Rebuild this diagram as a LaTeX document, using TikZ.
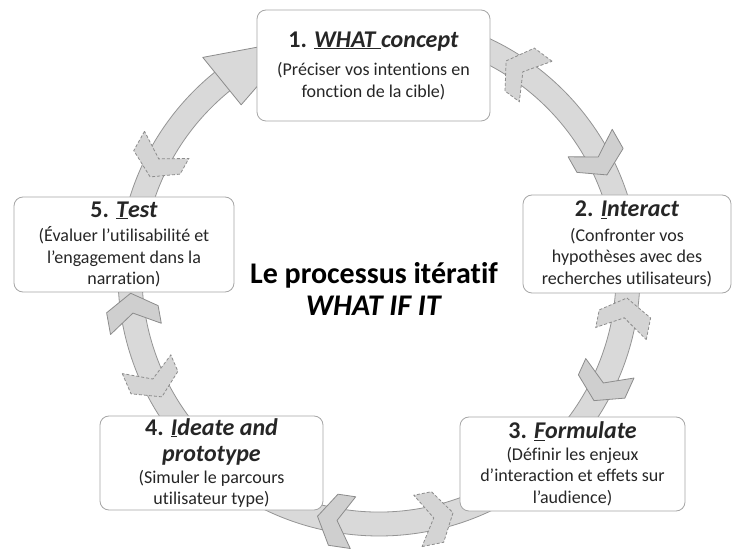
\documentclass[tikz,border=0pt]{standalone}
\usepackage{fontspec}
\setmainfont{Carlito}[Ligatures={TeX,NoCommon}]
\newcommand{\ttl}[1]{{\fontsize{24}{27}\selectfont\bfseries #1}}
\newcommand{\bdy}{\fontsize{18}{21.5}\selectfont}
\tikzset{
  box/.style={draw=black!35, line width=0.8pt, rounded corners=9pt, fill=white, align=center, inner sep=0pt, font=\bdy, text=black!85},
  band/.style={fill=black!15, draw=black!42, line width=0.8pt},
  chevsolid/.style={fill=black!19, draw=black!45, line width=0.8pt, line join=round},
  chevdash/.style={fill=black!17, draw=black!45, dashed, dash pattern=on 3pt off 2pt, line width=0.8pt},
}
% chevron pointing clockwise (direction of travel)
\newcommand{\chevcw}[1]{%
  \draw[chevsolid] ({#1}:275) -- ({#1-4.6}:275) -- ({#1-8.3}:249) -- ({#1-4.6}:223) -- ({#1}:223) -- ({#1-3.7}:249) -- cycle;}
% chevron pointing counter-clockwise (dashed tail)
\newcommand{\chevccw}[1]{%
  \draw[chevdash] ({#1}:275) -- ({#1+4.6}:275) -- ({#1+8.3}:249) -- ({#1+4.6}:223) -- ({#1}:223) -- ({#1+3.7}:249) -- cycle;}
\begin{document}
\begin{tikzpicture}[x=1pt,y=1pt]
\useasboundingbox (0,0) rectangle (733,557);
\fill[white] (0,0) rectangle (733,557);
\begin{scope}[shift={(379,282)}]
  % ring band, open where the arrow head sits
  \draw[band] (128.5:261) arc[start angle=128.5, end angle=470, radius=261]
     -- (470:237) arc[start angle=470, end angle=128.5, radius=237] -- cycle;
  % arrow head 5 -> 1
  \draw[chevsolid, fill=black!15] (129:219) -- (129:280) -- (109:249) -- cycle;
  % solid chevrons (heads)
  \chevcw{32}
  \chevcw{-22}
  \chevcw{-96}
  \chevcw{192.5}
  % dashed chevrons (tails)
  \chevccw{51}
  \chevccw{-13.6}
  \chevccw{-81}
  \chevccw{201}
  \chevccw{148.5}
\end{scope}
% boxes
\node[box, minimum width=233, minimum height=111] (b1) at (373.5,491.5)
  {\ttl{1. \textit{\underline{WHAT\ }concept}}\\[7pt]
   (Préciser vos intentions en\\ fonction de la cible)};
\node[box, minimum width=208, minimum height=98] (b2) at (627,313)
  {\ttl{2. \textit{\underline{I}nteract}}\\[3pt]
   (Confronter vos\\ hypothèses avec des\\ recherches utilisateurs)};
\node[box, minimum width=225, minimum height=94] (b3) at (572.5,93)
  {\ttl{3. \textit{\underline{F}ormulate}}\\[0pt]
   (Définir les enjeux\\ d’interaction et effets sur\\ l’audience)};
\node[box, minimum width=223, minimum height=94] (b4) at (211.5,94)
  {\ttl{4. \textit{\underline{I}deate and}}\\[5pt]
   \ttl{\textit{prototype}}\\[0pt]
   (Simuler le parcours\\ utilisateur type)};
\node[box, minimum width=220, minimum height=95] (b5) at (124,312.5)
  {\ttl{5. \textit{\underline{T}est}}\\[3pt]
   (Évaluer l’utilisabilité et\\ l’engagement dans la\\ narration)};
% centre title
\node[align=center, font=\fontsize{30}{32}\selectfont\bfseries] (t) at (374,268)
  {Le processus itératif\\ \textit{WHAT IF IT}};
\end{tikzpicture}
\end{document}
